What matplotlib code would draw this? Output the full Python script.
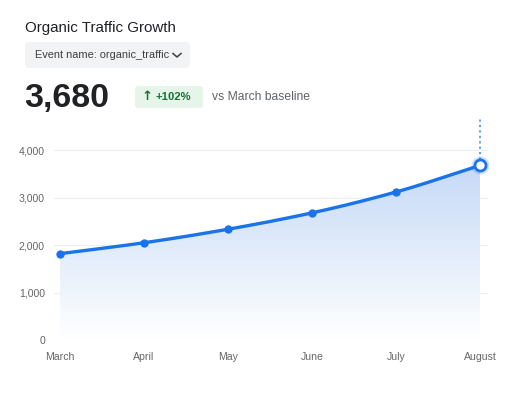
import numpy as np
import matplotlib
matplotlib.use("Agg")
import matplotlib.pyplot as plt
from matplotlib.patches import FancyBboxPatch
from matplotlib.lines import Line2D

plt.rcParams['font.family'] = ['Liberation Sans', 'DejaVu Sans']

months = ["March", "April", "May", "June", "July", "August"]
traffic = [1820, 2050, 2335, 2680, 3120, 3680]
y_ticks = [0, 1000, 2000, 3000, 4000]
y_tick_labels = ["0", "1,000", "2,000", "3,000", "4,000"]

BLUE = "#1a73e8"


def monotone_curve(x, y, n=40):
    # Fritsch-Carlson monotone cubic, like chart libraries use for smooth lines
    x = np.asarray(x, float)
    y = np.asarray(y, float)
    h = np.diff(x)
    d = np.diff(y) / h
    m = np.zeros_like(y)
    m[0], m[-1] = d[0], d[-1]
    for i in range(1, len(y) - 1):
        if d[i - 1] * d[i] <= 0:
            m[i] = 0
        else:
            w1 = 2 * h[i] + h[i - 1]
            w2 = h[i] + 2 * h[i - 1]
            m[i] = (w1 + w2) / (w1 / d[i - 1] + w2 / d[i])
    xs, ys = [], []
    for i in range(len(x) - 1):
        t = np.linspace(0, 1, n, endpoint=(i == len(x) - 2))
        h00 = 2 * t**3 - 3 * t**2 + 1
        h10 = t**3 - 2 * t**2 + t
        h01 = -2 * t**3 + 3 * t**2
        h11 = t**3 - t**2
        xs.append(x[i] + t * h[i])
        ys.append(h00 * y[i] + h10 * h[i] * m[i] + h01 * y[i + 1] + h11 * h[i] * m[i + 1])
    return np.concatenate(xs), np.concatenate(ys)


def px_box(x, y, w, h, color, r):
    # rounded box given in pixels from the top-left corner
    box = FancyBboxPatch((x / 100, (400 - y - h) / 100), w / 100, h / 100,
                         boxstyle=f"round,pad=0,rounding_size={r / 100}",
                         transform=fig.dpi_scale_trans, facecolor=color,
                         edgecolor="none")
    fig.patches.append(box)


fig = plt.figure(figsize=(5.3, 4.0), dpi=100)
fig.patch.set_facecolor("white")

# header
fig.text(25 / 530, 1 - 28 / 400, "Organic Traffic Growth", fontsize=10.9,
         color="#202124", va="center", ha="left")
px_box(25, 42, 165, 26, "#f1f3f4", 4)
fig.text(35 / 530, 1 - 55.5 / 400, "Event name: organic_traffic", fontsize=7.9,
         color="#3c4043", va="center", ha="left")
fig.lines.append(Line2D([173 / 530, 177 / 530, 181 / 530],
                        [1 - 53.5 / 400, 1 - 57 / 400, 1 - 53.5 / 400],
                        transform=fig.transFigure, color="#3c4043", lw=1.1))

fig.text(24 / 530, 1 - 99 / 400, f"{traffic[-1]:,}", fontsize=24.5, fontweight="bold",
         color="#202124", va="center", ha="left")
px_box(135, 86, 68, 22, "#e6f4ea", 3)
growth = round((traffic[-1] / traffic[0] - 1) * 100)
fig.text(141 / 530, 1 - 97 / 400, "\u2191", fontsize=9.5, fontweight="bold",
         family="DejaVu Sans", color="#137333", va="center", ha="left")
fig.text(156 / 530, 1 - 97 / 400, f"+{growth}%", fontsize=8.1, fontweight="bold",
         color="#137333", va="center", ha="left")
fig.text(212 / 530, 1 - 97 / 400, "vs March baseline", fontsize=8.7,
         color="#5f6368", va="center", ha="left")

# chart
ax = fig.add_axes([54 / 530, 60 / 400, 434 / 530, 222 / 400])
xi = np.arange(len(months))
ax.set_xlim(-6 / 84, 5 + 8 / 84)
ax.set_ylim(0, 4680)

cx, cy = monotone_curve(xi, traffic)

# gradient fill under line
fill = ax.fill_between(cx, 0, cy, color="none", lw=0)
grad = np.linspace(0, 1, 256).reshape(-1, 1)
cmap = matplotlib.colors.LinearSegmentedColormap.from_list("g", ["#ffffff", "#c6daf7"])
img = ax.imshow(grad, cmap=cmap, aspect="auto", origin="lower",
                extent=[xi[0], xi[-1], 0, max(traffic)], zorder=1)
img.set_clip_path(fill.get_paths()[0], transform=ax.transData)

for t in y_ticks[1:]:
    ax.axhline(t, color="#eeeeee", lw=0.8, zorder=0)
ax.axhline(0, color="#dddddd", lw=0.8, ls=(0, (2, 3)), zorder=0)

ax.plot(cx, cy, color=BLUE, lw=2.4, zorder=3, solid_capstyle="round")
ax.plot(xi[:-1], traffic[:-1], "o", color=BLUE, ms=5, zorder=4)

# highlighted last point
ax.plot([xi[-1], xi[-1]], [traffic[-1], 4680], color=BLUE, lw=1.3,
        ls=(0, (1.2, 1.8)), alpha=0.75, zorder=2)
ax.plot(xi[-1], traffic[-1], "o", ms=13, color=BLUE, alpha=0.2, mec="none", zorder=4)
ax.plot(xi[-1], traffic[-1], "o", ms=8, mfc="white", mec=BLUE, mew=2, zorder=5)

ax.set_xticks(xi)
ax.set_xticklabels(months)
ax.set_yticks(y_ticks)
ax.set_yticklabels(y_tick_labels)
ax.tick_params(length=0, labelsize=7.6, labelcolor="#666666")
ax.tick_params(axis="x", pad=8.5)
ax.tick_params(axis="y", pad=6.5)
for s in ax.spines.values():
    s.set_visible(False)
ax.set_facecolor("none")

fig.savefig("out.png", dpi=100, facecolor="white")
